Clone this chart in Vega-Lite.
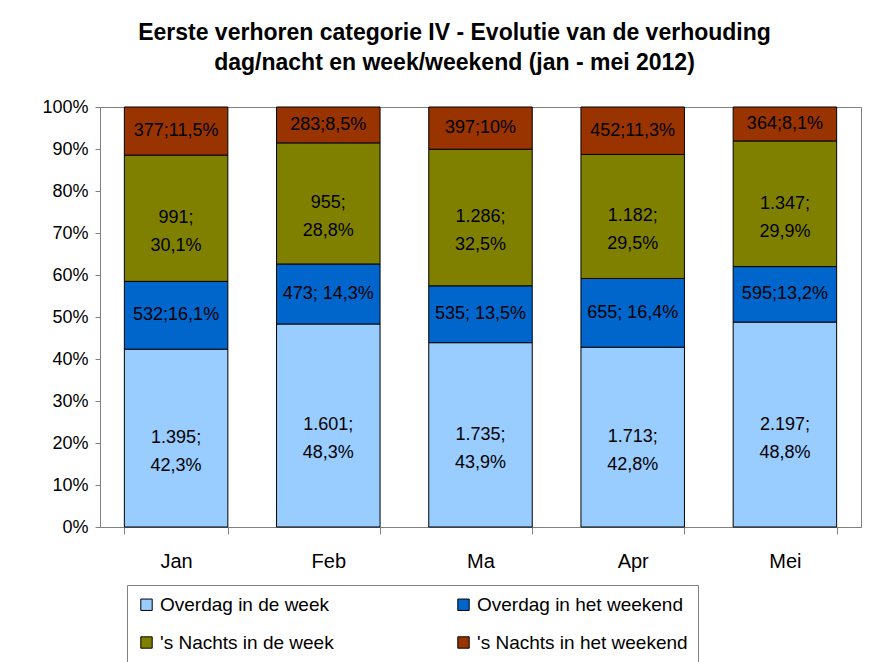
{
  "$schema": "https://vega.github.io/schema/vega-lite/v6.json",
  "width": 761,
  "height": 420,
  "autosize": {"type": "none"},
  "padding": {"left": 100, "top": 107, "right": 18, "bottom": 135},
  "background": "white",
  "config": {
    "font": "Liberation Sans",
    "view": {"stroke": "#808080", "strokeWidth": 1}
  },
  "title": {
    "text": ["Eerste verhoren categorie IV - Evolutie van de verhouding", "dag/nacht en week/weekend (jan - mei 2012)"],
    "fontSize": 23,
    "fontWeight": "bold",
    "font": "Liberation Sans",
    "color": "black",
    "lineHeight": 30,
    "anchor": "middle",
    "dx": -26,
    "offset": 23
  },
  "data": {
    "values": [
      {"month": "Jan", "series": "Overdag in de week", "order": 1, "count": 1395, "label": "1.395;|42,3%"},
      {"month": "Jan", "series": "Overdag in het weekend", "order": 2, "count": 532, "label": "532;16,1%"},
      {"month": "Jan", "series": " 's Nachts in de week", "order": 3, "count": 991, "label": "991;|30,1%"},
      {"month": "Jan", "series": " 's Nachts in het weekend", "order": 4, "count": 377, "label": "377;11,5%"},
      {"month": "Feb", "series": "Overdag in de week", "order": 1, "count": 1601, "label": "1.601;|48,3%"},
      {"month": "Feb", "series": "Overdag in het weekend", "order": 2, "count": 473, "label": "473; 14,3%"},
      {"month": "Feb", "series": " 's Nachts in de week", "order": 3, "count": 955, "label": "955;|28,8%"},
      {"month": "Feb", "series": " 's Nachts in het weekend", "order": 4, "count": 283, "label": "283;8,5%"},
      {"month": "Ma", "series": "Overdag in de week", "order": 1, "count": 1735, "label": "1.735;|43,9%"},
      {"month": "Ma", "series": "Overdag in het weekend", "order": 2, "count": 535, "label": "535; 13,5%"},
      {"month": "Ma", "series": " 's Nachts in de week", "order": 3, "count": 1286, "label": "1.286;|32,5%"},
      {"month": "Ma", "series": " 's Nachts in het weekend", "order": 4, "count": 397, "label": "397;10%"},
      {"month": "Apr", "series": "Overdag in de week", "order": 1, "count": 1713, "label": "1.713;|42,8%"},
      {"month": "Apr", "series": "Overdag in het weekend", "order": 2, "count": 655, "label": "655; 16,4%"},
      {"month": "Apr", "series": " 's Nachts in de week", "order": 3, "count": 1182, "label": "1.182;|29,5%"},
      {"month": "Apr", "series": " 's Nachts in het weekend", "order": 4, "count": 452, "label": "452;11,3%"},
      {"month": "Mei", "series": "Overdag in de week", "order": 1, "count": 2197, "label": "2.197;|48,8%"},
      {"month": "Mei", "series": "Overdag in het weekend", "order": 2, "count": 595, "label": "595;13,2%"},
      {"month": "Mei", "series": " 's Nachts in de week", "order": 3, "count": 1347, "label": "1.347;|29,9%"},
      {"month": "Mei", "series": " 's Nachts in het weekend", "order": 4, "count": 364, "label": "364;8,1%"}
    ]
  },
  "transform": [
    {"stack": "count", "groupby": ["month"], "sort": [{"field": "order", "order": "ascending"}], "offset": "normalize", "as": ["y0", "y1"]},
    {"calculate": "(datum.y0 + datum.y1) / 2", "as": "mid"}
  ],
  "encoding": {
    "x": {
      "field": "month",
      "type": "nominal",
      "sort": ["Jan", "Feb", "Ma", "Apr", "Mei"],
      "scale": {"paddingInner": 0.32, "paddingOuter": 0.16},
      "axis": {
        "title": null,
        "labelAngle": 0,
        "labelFontSize": 20,
        "labelColor": "black",
        "labelPadding": 17,
        "domainColor": "#808080",
        "tickColor": "#808080",
        "tickSize": 7,
        "tickBand": "extent"
      }
    }
  },
  "layer": [
    {
      "mark": {"type": "bar", "stroke": "black", "strokeWidth": 1},
      "encoding": {
        "y": {
          "field": "y0",
          "type": "quantitative",
          "scale": {"domain": [0, 1]},
          "axis": {
            "title": null,
            "format": "%",
            "values": [0, 0.1, 0.2, 0.3, 0.4, 0.5, 0.6, 0.7, 0.8, 0.9, 1],
            "labelFontSize": 18,
            "labelColor": "black",
            "labelPadding": 7,
            "domainColor": "#808080",
            "tickColor": "#808080",
            "tickSize": 5,
            "grid": false
          }
        },
        "y2": {"field": "y1"},
        "color": {
          "field": "series",
          "type": "nominal",
          "scale": {
            "domain": ["Overdag in de week", "Overdag in het weekend", " 's Nachts in de week", " 's Nachts in het weekend"],
            "range": ["#99CCFF", "#0066CC", "#808000", "#993300"]
          },
          "legend": {
            "title": null,
            "orient": "none",
            "direction": "horizontal",
            "legendX": 27,
            "legendY": 478,
            "columns": 2,
            "columnPadding": 120,
            "rowPadding": 18,
            "padding": 10,
            "strokeColor": "#808080",
            "symbolType": "square",
            "symbolSize": 130,
            "symbolStrokeColor": "black",
            "symbolStrokeWidth": 1,
            "labelFontSize": 19,
            "labelColor": "black",
            "labelLimit": 300,
            "labelOffset": 4
          }
        }
      }
    },
    {
      "mark": {"type": "text", "fontSize": 18, "color": "black", "lineBreak": "|", "lineHeight": 28, "baseline": "middle"},
      "encoding": {
        "y": {"field": "mid", "type": "quantitative", "scale": {"domain": [0, 1]}},
        "text": {"field": "label"}
      }
    }
  ]
}
